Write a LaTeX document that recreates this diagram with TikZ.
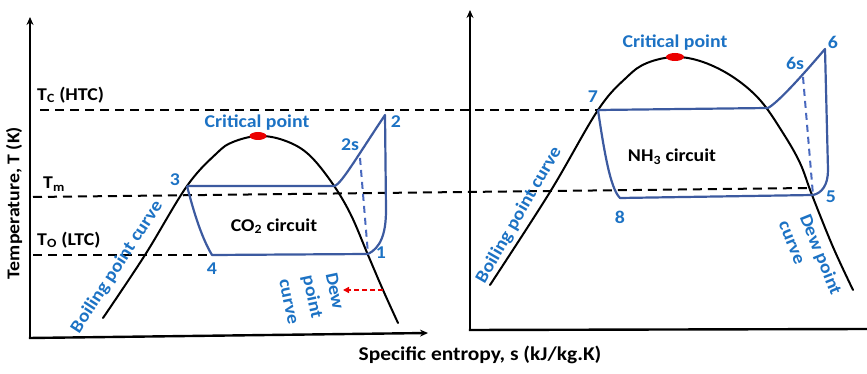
\documentclass[tikz,border=0pt]{standalone}
\usepackage{fontspec}
\setmainfont{Carlito}[FakeStretch=1.1]
\usetikzlibrary{arrows.meta,shapes.geometric}
\definecolor{txtblue}{RGB}{28,114,196}
\definecolor{cycblue}{RGB}{60,90,160}
\definecolor{dashblue}{RGB}{72,104,190}
\definecolor{cpred}{RGB}{235,0,0}
\begin{document}
\begin{tikzpicture}[x=1pt,y=-1pt,
  font=\fontsize{18}{21}\selectfont\bfseries,
  axisline/.style={line width=2.4pt,-{Stealth[length=8pt,width=7pt]}},
  axisplain/.style={line width=2.4pt},
  domeline/.style={line width=2pt,black,line cap=round},
  cycline/.style={line width=2.2pt,cycblue,line join=round},
  blkdash/.style={line width=2pt,black,dash pattern=on 9pt off 6pt},
  cycdash/.style={line width=2pt,dashblue,dash pattern=on 7pt off 5pt},
  lbl/.style={text=txtblue,inner sep=0pt},
  blk/.style={text=black,inner sep=0pt},
  cpt/.style={ellipse,fill=cpred,draw=none,minimum width=17pt,minimum height=8pt,inner sep=0pt}
]
\useasboundingbox (0,0) rectangle (867,374);
% ---------- axes ----------
\coordinate (o1) at (30,338);
\coordinate (y1) at (30,17);
\coordinate (x1) at (428,333);
\coordinate (o2) at (470,330);
\coordinate (y2) at (470,10);
\coordinate (x2) at (867,329);
\draw[axisline] (o1) -- (y1);
\draw[axisline] ([xshift=-1.2pt]o1) -- (x1);
\draw[axisline] (o2) -- (y2);
\draw[axisplain] ([xshift=-1.2pt]o2) -- (x2);
\node[blk,rotate=90] (ylab) at (14,203) {Temperature, T (K)};
\node[blk,font=\fontsize{19.5}{22}\selectfont\bfseries] (xlab) at (480,355) {Specific entropy, s (kJ/kg.K)};
% ---------- cycle points ----------
\coordinate (p3) at (187,186);
\coordinate (a1) at (335,186);
\coordinate (p2s) at (360,158);
\coordinate (p2) at (385,115);
\coordinate (a2) at (386,210);
\coordinate (p1) at (368,254);
\coordinate (p4) at (212,255);
\coordinate (p7) at (598,110);
\coordinate (b1) at (768,108);
\coordinate (p6s) at (803,77);
\coordinate (p6) at (825,49);
\coordinate (b2) at (828,170);
\coordinate (p5) at (813,195);
\coordinate (p8) at (620,198);
% ---------- dashed temperature lines ----------
\coordinate (tc0) at (40,110);
\coordinate (tm0) at (33,197);
\coordinate (tm1) at (808,188);
\coordinate (to0) at (33,255);
\draw[blkdash] (tc0) -- (p7);
\draw[blkdash] (tm0) -- (tm1);
\draw[blkdash] (to0) -- (p4);
\node[blk,anchor=west] (tc) at (37,95) {T\textsubscript{C} (HTC)};
\node[blk,anchor=west] (tm) at (43,184) {T\textsubscript{m}};
\node[blk,anchor=west] (to) at (37,240) {T\textsubscript{O} (LTC)};
% ---------- domes ----------
\draw[domeline] plot[smooth,tension=0.6] coordinates {(103,318) (145,255) (187,186) (217,153) (233,142) (258,136) (283,140) (307,153) (330,180) (350,213) (368,255) (383,290) (398,323)};
\draw[domeline] plot[smooth,tension=0.6] coordinates {(490,285) (550,192) (598,110) (627,77) (647,63) (675,57) (703,62) (733,77) (760,100) (783,133) (800,163) (812,195) (833,247) (853,290)};
% ---------- cycles ----------
\draw[cycline] (p3) -- (a1) .. controls (343,181) and (355,160) .. (p2) -- (a2) .. controls (386,235) and (380,248) .. (p1) -- (p4) .. controls (200,235) and (192,205) .. (p3);
\draw[cycdash] (p2s) -- (p1);
\draw[cycline] (p7) -- (b1) .. controls (775,104) and (790,90) .. (p6) -- (b2) .. controls (828,185) and (822,193) .. (p5) -- (p8) .. controls (612,190) and (606,165) .. (p7);
\draw[cycdash] (p6s) -- (p5);
% ---------- critical points ----------
\node[cpt] (cp1) at (258,136) {};
\node[cpt,minimum width=18pt] (cp2) at (675,57) {};
\node[lbl] (cpl1) at (257,123) {Critical point};
\node[lbl] (cpl2) at (675,43) {Critical point};
% ---------- point labels ----------
\node[lbl] (l1) at (381,253) {1};
\node[lbl] (l2) at (396,122) {2};
\node[lbl] (l2s) at (350,145) {2s};
\node[lbl] (l3) at (175,180) {3};
\node[lbl] (l4) at (212,269) {4};
\node[lbl] (l5) at (831,197) {5};
\node[lbl] (l6) at (833,42) {6};
\node[lbl] (l6s) at (795,63) {6s};
\node[lbl] (l7) at (593,97) {7};
\node[lbl] (l8) at (620,217) {8};
\node[blk] (co2) at (274,226) {CO\textsubscript{2} circuit};
\node[blk] (nh3) at (672,157) {NH\textsubscript{3} circuit};
% ---------- curve labels ----------
\node[lbl,rotate=57] (bp1) at (117,267) {Boiling point curve};
\node[lbl,rotate=60] (bp2) at (519,215) {Boiling point curve};
\node[lbl,rotate=-78] (dw1) at (335,291) {Dew};
\node[lbl,rotate=-78] (dw2) at (312,297) {point};
\node[lbl,rotate=-78] (dw3) at (288,302) {curve};
\node[lbl,rotate=-68] (dw4) at (820,255) {Dew point};
\node[lbl,rotate=-68] (dw5) at (791,243) {curve};
% ---------- red arrow ----------
\coordinate (r0) at (383,290);
\coordinate (r1) at (343,290);
\draw[cpred,line width=1.5pt,dash pattern=on 5pt off 3pt,-{Triangle[length=6pt,width=6pt]}] (r0) -- (r1);
\end{tikzpicture}
\end{document}
